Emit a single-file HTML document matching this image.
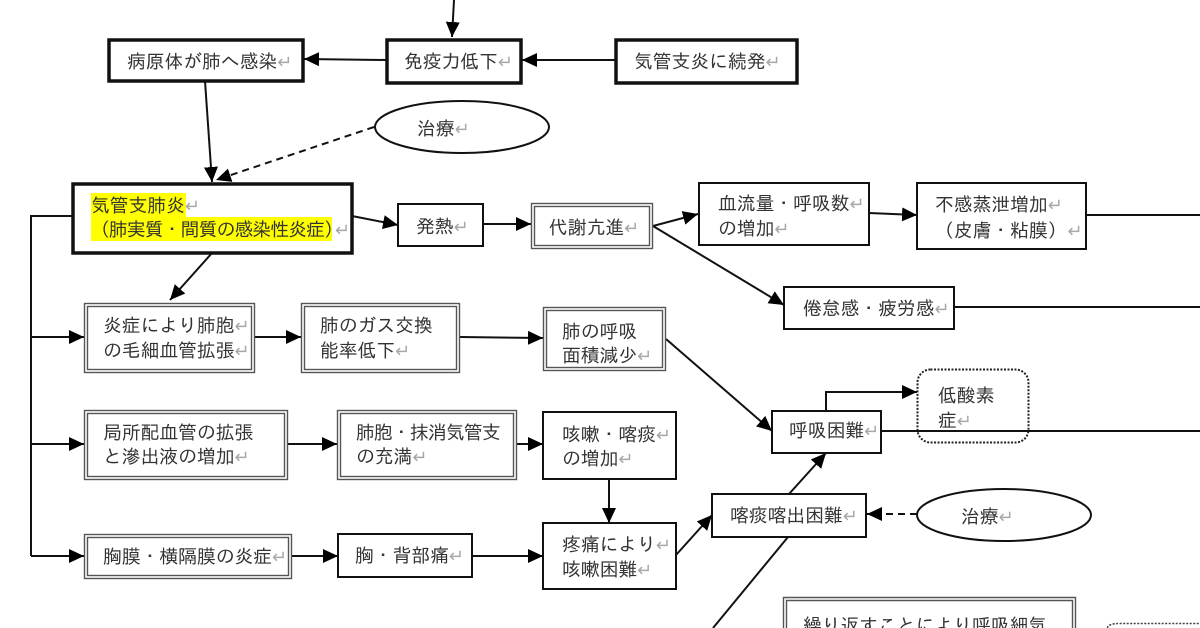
<!DOCTYPE html>
<html lang="ja">
<head>
<meta charset="utf-8">
<title>気管支肺炎 関連図</title>
<style>
html,body{margin:0;padding:0;background:#fff;width:1200px;height:628px;overflow:hidden}
svg{display:block}
text{font-family:"IPAGothic","Liberation Sans","Noto Sans CJK JP",sans-serif;font-size:18.8px;fill:#333}
.r{fill:#a8a8a8;font-size:18px}
.t3{fill:#fff;stroke:#111;stroke-width:3.5}
.t1{fill:#fff;stroke:#111;stroke-width:2}
.dbl{fill:#fff;stroke:#555;stroke-width:1.4}
.l{fill:none;stroke:#111;stroke-width:2}
.d{fill:none;stroke:#111;stroke-width:2;stroke-dasharray:7 5}
</style>
</head>
<body>
<svg width="1200" height="628" viewBox="0 0 1200 628" xmlns="http://www.w3.org/2000/svg">
<defs>
<marker id="a" markerUnits="userSpaceOnUse" markerWidth="16" markerHeight="15" refX="15" refY="7" orient="auto">
<path d="M0 0L15 7L0 14Z" fill="#000"/>
</marker>
<clipPath id="frame"><rect x="0" y="0" width="1200" height="628"/></clipPath>
</defs>

<!-- connectors -->
<path class="l" d="M454 0L452 37" marker-end="url(#a)"/>
<path class="l" d="M387 60L304 59" marker-end="url(#a)"/>
<path class="l" d="M615 60L522 60" marker-end="url(#a)"/>
<path class="l" d="M205 81L212 182" marker-end="url(#a)"/>
<path class="d" d="M374 127L216 180" marker-end="url(#a)"/>
<path class="l" d="M352 216L398 225" marker-end="url(#a)"/>
<path class="l" d="M212 253L170 300" marker-end="url(#a)"/>
<path class="l" d="M483 224L531 224" marker-end="url(#a)"/>
<path class="l" d="M653 226L698 214" marker-end="url(#a)"/>
<path class="l" d="M653 226L784 305" marker-end="url(#a)"/>
<path class="l" d="M869 213L917 215" marker-end="url(#a)"/>
<path class="l" d="M1086 215H1200"/>
<path class="l" d="M954 307H1200"/>
<path class="l" d="M72 216H31V556"/>
<path class="l" d="M31 337H84" marker-end="url(#a)"/>
<path class="l" d="M31 444H84" marker-end="url(#a)"/>
<path class="l" d="M31 556H84" marker-end="url(#a)"/>
<path class="l" d="M255 337H301" marker-end="url(#a)"/>
<path class="l" d="M288 444H337" marker-end="url(#a)"/>
<path class="l" d="M292 556H338" marker-end="url(#a)"/>
<path class="l" d="M472 556H543" marker-end="url(#a)"/>
<path class="l" d="M460 337L543 338" marker-end="url(#a)"/>
<path class="l" d="M517 444H543" marker-end="url(#a)"/>
<path class="l" d="M609 479V523" marker-end="url(#a)"/>
<path class="l" d="M676 555L712 515" marker-end="url(#a)"/>
<path class="l" d="M666 339L772 431" marker-end="url(#a)"/>
<path class="l" d="M713 628L788 537"/>
<path class="l" d="M789 494L826 453" marker-end="url(#a)"/>
<path class="l" d="M826 411V392H917" marker-end="url(#a)"/>
<path class="d" d="M917 514H867" marker-end="url(#a)"/>

<!-- highlighted main box -->
<rect class="t3" x="73" y="184" width="279" height="69"/>
<rect x="91" y="193" width="95" height="24" fill="#ffff00"/>
<rect x="91" y="217" width="241" height="24" fill="#ffff00"/>

<!-- thick boxes -->
<rect class="t3" x="109" y="40" width="194" height="41"/>
<rect class="t3" x="387" y="40" width="134" height="43"/>
<rect class="t3" x="616" y="40" width="181" height="43"/>

<!-- single boxes -->
<rect class="t1" x="398" y="204" width="85" height="42"/>
<rect class="t1" x="699" y="183" width="170" height="62"/>
<rect class="t1" x="917" y="183" width="169" height="66"/>
<rect class="t1" x="784" y="287" width="170" height="42"/>
<rect class="t1" x="543" y="412" width="133" height="67"/>
<rect class="t1" x="543" y="523" width="133" height="66"/>
<rect class="t1" x="338" y="534" width="134" height="43"/>
<rect class="t1" x="712" y="494" width="154" height="43"/>
<rect class="t1" x="772" y="411" width="109" height="42"/>

<!-- double boxes -->
<g class="dbl">
<rect x="531.5" y="203.5" width="121" height="45"/><rect x="534.5" y="206.5" width="115" height="39"/>
<rect x="84.5" y="303.5" width="170" height="69"/><rect x="87.5" y="306.5" width="164" height="63"/>
<rect x="301.5" y="303.5" width="158" height="69"/><rect x="304.5" y="306.5" width="152" height="63"/>
<rect x="543.5" y="307.5" width="122" height="63"/><rect x="546.5" y="310.5" width="116" height="57"/>
<rect x="84.5" y="410.5" width="203" height="69"/><rect x="87.5" y="413.5" width="197" height="63"/>
<rect x="337.5" y="410.5" width="179" height="69"/><rect x="340.5" y="413.5" width="173" height="63"/>
<rect x="84.5" y="534.5" width="207" height="44"/><rect x="87.5" y="537.5" width="201" height="38"/>
<path d="M783.5 628V597.5H1075.5V628M786.5 628V600.5H1072.5V628" fill="none"/>
</g>

<!-- ellipses -->
<ellipse cx="462" cy="127" rx="87" ry="26" fill="#fff" stroke="#111" stroke-width="2"/>
<ellipse cx="1004" cy="515" rx="87" ry="26" fill="#fff" stroke="#111" stroke-width="2"/>

<!-- dotted -->
<rect x="917.5" y="369.5" width="111" height="73" rx="13" fill="none" stroke="#222" stroke-width="2" stroke-dasharray="2 1.5"/>
<path d="M1107.5 628V636.5M1107.5 628Q1107.5 623.5 1120.5 623.5H1200" fill="none" stroke="#444" stroke-width="1.5" stroke-dasharray="2 1.5"/>

<!-- line crossing the dotted box -->
<path class="l" d="M881 431H1200"/>

<!-- labels -->
<g clip-path="url(#frame)">
<text x="127" y="68">病原体が肺へ感染<tspan class="r">↵</tspan></text>
<text x="404" y="68">免疫力低下<tspan class="r">↵</tspan></text>
<text x="634" y="68">気管支炎に続発<tspan class="r">↵</tspan></text>
<text x="417" y="135">治療<tspan class="r">↵</tspan></text>
<text x="91" y="212">気管支肺炎<tspan class="r">↵</tspan></text>
<text x="91" y="236" letter-spacing="-0.85">（肺実質・間質の感染性炎症）<tspan class="r" dx="-7">↵</tspan></text>
<text x="416" y="233">発熱<tspan class="r">↵</tspan></text>
<text x="549" y="234">代謝亢進<tspan class="r">↵</tspan></text>
<text x="718" y="210">血流量・呼吸数<tspan class="r">↵</tspan></text>
<text x="718" y="235">の増加<tspan class="r">↵</tspan></text>
<text x="935" y="211">不感蒸泄増加<tspan class="r">↵</tspan></text>
<text x="935" y="237">（皮膚・粘膜）<tspan class="r" dx="1">↵</tspan></text>
<text x="803" y="315">倦怠感・疲労感<tspan class="r">↵</tspan></text>
<text x="103" y="332">炎症により肺胞<tspan class="r">↵</tspan></text>
<text x="103" y="357">の毛細血管拡張<tspan class="r">↵</tspan></text>
<text x="320" y="332">肺のガス交換</text>
<text x="320" y="357">能率低下<tspan class="r">↵</tspan></text>
<text x="562" y="338">肺の呼吸</text>
<text x="562" y="362">面積減少<tspan class="r">↵</tspan></text>
<text x="103" y="439">局所配血管の拡張</text>
<text x="103" y="463">と滲出液の増加<tspan class="r">↵</tspan></text>
<text x="356" y="439" letter-spacing="-0.8">肺胞・抹消気管支</text>
<text x="356" y="463">の充満<tspan class="r">↵</tspan></text>
<text x="562" y="441">咳嗽・喀痰<tspan class="r">↵</tspan></text>
<text x="562" y="465">の増加<tspan class="r">↵</tspan></text>
<text x="103" y="563">胸膜・横隔膜の炎症<tspan class="r">↵</tspan></text>
<text x="355" y="562">胸・背部痛<tspan class="r">↵</tspan></text>
<text x="562" y="551">疼痛により<tspan class="r">↵</tspan></text>
<text x="562" y="576">咳嗽困難<tspan class="r">↵</tspan></text>
<text x="730" y="522">喀痰喀出困難<tspan class="r">↵</tspan></text>
<text x="961" y="523">治療<tspan class="r">↵</tspan></text>
<text x="789" y="437">呼吸困難<tspan class="r">↵</tspan></text>
<text x="938" y="402">低酸素</text>
<text x="938" y="427">症<tspan class="r">↵</tspan></text>
<text x="803" y="632">繰り返すことにより呼吸細気</text>
</g>
</svg>
</body>
</html>
